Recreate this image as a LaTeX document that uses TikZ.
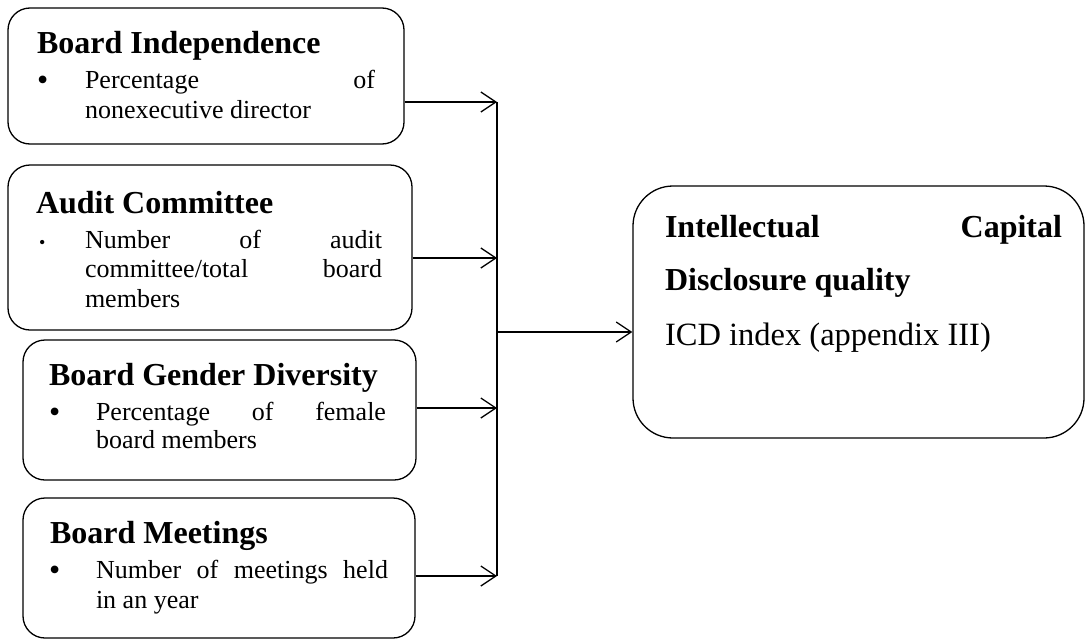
\documentclass[tikz,border=0pt]{standalone}
\usepackage{fontspec}
\setmainfont{Liberation Serif}
\usetikzlibrary{arrows.meta}
\newcommand{\titlef}{\fontsize{32}{36}\selectfont\bfseries}
\newcommand{\bodyf}{\fontsize{26}{30}\selectfont}
\newcommand{\bulf}{\fontsize{32}{30}\selectfont}
\newcommand{\bigf}{\fontsize{32.5}{36}\selectfont}
\begin{document}
\begin{tikzpicture}[x=1pt,y=-1pt,
  box/.style={draw, line width=1.3pt, rounded corners=22pt, inner sep=0pt},
  bigbox/.style={draw, line width=1.3pt, rounded corners=40pt, inner sep=0pt},
  txt/.style={inner sep=0pt, outer sep=0pt, anchor=base west},
  conn/.style={line width=1.3pt},
  arr/.style={line width=1.3pt, -{Straight Barb[length=15pt,width=20pt,line width=1.3pt]}}
]
\useasboundingbox (0,0) rectangle (1086,640);

% boxes
\node[box, minimum width=396pt, minimum height=136pt] (box1) at (206,76) {};
\node[box, minimum width=404pt, minimum height=165pt] (box2) at (210,247.5) {};
\node[box, minimum width=393pt, minimum height=140pt] (box3) at (219.5,410) {};
\node[box, minimum width=392pt, minimum height=140pt] (box4) at (219,568) {};
\node[bigbox, minimum width=451pt, minimum height=252pt] (out) at (858.5,312) {};

% box 1 text
\node[txt] (t1) at (37,53) {\titlef Board Independence};
\node[txt] (u1) at (37,90) {\bulf\textbullet};
\node[txt] (p1) at (85,88) {\parbox[t]{290pt}{\bodyf Percentage\hfill of\\nonexecutive director}};

% box 2 text
\node[txt] (t2) at (36,213) {\titlef Audit Committee};
\node[txt] (u2) at (39,248) {\fontsize{18}{20}\selectfont\textbullet};
\node[txt] (p2) at (85,248) {\parbox[t]{297pt}{\bodyf\baselineskip=29.5pt Number\hfill of\hfill audit\\committee/total\hfill board\\members}};

% box 3 text
\node[txt] (t3) at (49,385) {\titlef Board Gender Diversity};
\node[txt] (u3) at (49,422) {\bulf\textbullet};
\node[txt] (p3) at (96,420) {\parbox[t]{290pt}{\bodyf\baselineskip=28pt Percentage\hfill of\hfill female\\board members}};

% box 4 text
\node[txt] (t4) at (50,543) {\titlef Board Meetings};
\node[txt] (u4) at (49,580) {\bulf\textbullet};
\node[txt] (p4) at (96,578) {\parbox[t]{292pt}{\bodyf Number\hfill of\hfill meetings\hfill held\\in an year}};

% output box text
\node[txt] (o1) at (665,237) {\parbox[t]{397pt}{\titlef Intellectual\hfill Capital}};
\node[txt] (o2) at (665,290) {\titlef Disclosure quality};
\node[txt] (o3) at (665,345) {\bigf ICD index (appendix III)};

% connectors
\coordinate (j1) at (497,102);
\coordinate (j2) at (497,258);
\coordinate (j3) at (497,408);
\coordinate (j4) at (497,576);
\coordinate (jc) at (497,332);
\draw[conn] (j1) -- (j4);
\draw[arr] (box1.east |- j1) -- (j1);
\draw[arr] (box2.east |- j2) -- (j2);
\draw[arr] (box3.east |- j3) -- (j3);
\draw[arr] (box4.east |- j4) -- (j4);
\draw[arr] (jc) -- (out.west |- jc);
\end{tikzpicture}
\end{document}
